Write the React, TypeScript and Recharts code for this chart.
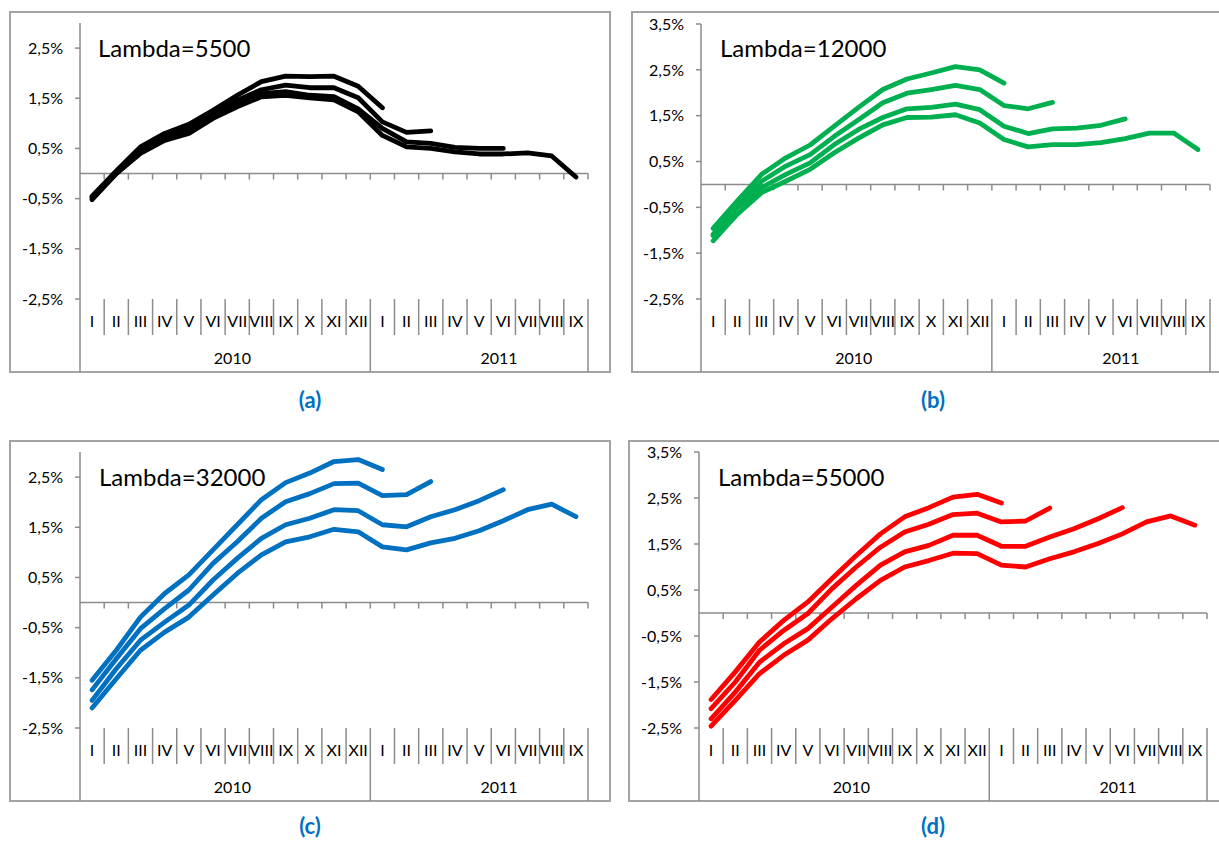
import React from 'react';
import { LineChart, Line, XAxis, YAxis, ReferenceLine } from 'recharts';

const MONTHS_2010 = ['I', 'II', 'III', 'IV', 'V', 'VI', 'VII', 'VIII', 'IX', 'X', 'XI', 'XII'];
const MONTHS_2011 = ['I', 'II', 'III', 'IV', 'V', 'VI', 'VII', 'VIII', 'IX'];
const YEARS = ['2010', '2011'];

// Lambda=5500
const a1 = [-0.45, 0.05, 0.53, 0.8, 0.98, 1.26, 1.56, 1.83, 1.94, 1.93, 1.94, 1.74, 1.31];
const a2 = [-0.47, 0.02, 0.5, 0.76, 0.93, 1.2, 1.46, 1.67, 1.76, 1.71, 1.71, 1.51, 1.03, 0.82, 0.85];
const a3 = [-0.49, 0.0, 0.45, 0.7, 0.86, 1.14, 1.4, 1.59, 1.63, 1.56, 1.53, 1.29, 0.9, 0.63, 0.6, 0.52, 0.5, 0.5];
const a4 = [-0.52, 0.0, 0.4, 0.66, 0.8, 1.1, 1.33, 1.53, 1.56, 1.51, 1.47, 1.23, 0.76, 0.53, 0.5, 0.43, 0.39, 0.39, 0.41, 0.35, -0.07];

// Lambda=12000
const b1 = [-0.96, -0.36, 0.22, 0.58, 0.86, 1.27, 1.68, 2.07, 2.3, 2.43, 2.57, 2.5, 2.21];
const b2 = [-1.09, -0.47, 0.07, 0.4, 0.65, 1.05, 1.41, 1.78, 1.99, 2.07, 2.16, 2.07, 1.72, 1.65, 1.79];
const b3 = [-1.12, -0.51, -0.07, 0.22, 0.47, 0.87, 1.2, 1.46, 1.65, 1.68, 1.75, 1.63, 1.27, 1.11, 1.21, 1.23, 1.29, 1.43];
const b4 = [-1.23, -0.65, -0.18, 0.07, 0.33, 0.69, 1.01, 1.3, 1.46, 1.47, 1.52, 1.34, 0.98, 0.82, 0.87, 0.87, 0.91, 1.0, 1.12, 1.12, 0.76];

// Lambda=32000
const c1 = [-1.55, -0.95, -0.29, 0.18, 0.55, 1.05, 1.55, 2.05, 2.39, 2.58, 2.81, 2.85, 2.65];
const c2 = [-1.74, -1.12, -0.52, -0.12, 0.25, 0.78, 1.21, 1.68, 2.01, 2.17, 2.37, 2.38, 2.13, 2.15, 2.41];
const c3 = [-1.95, -1.32, -0.75, -0.39, -0.05, 0.45, 0.88, 1.28, 1.55, 1.68, 1.85, 1.83, 1.55, 1.51, 1.71, 1.85, 2.03, 2.25];
const c4 = [-2.1, -1.52, -0.95, -0.59, -0.29, 0.15, 0.58, 0.95, 1.21, 1.31, 1.46, 1.41, 1.11, 1.05, 1.19, 1.28, 1.43, 1.63, 1.85, 1.96, 1.71];

// Lambda=55000
const d1 = [-1.88, -1.28, -0.63, -0.16, 0.24, 0.75, 1.25, 1.72, 2.09, 2.29, 2.52, 2.58, 2.39];
const d2 = [-2.08, -1.5, -0.81, -0.38, -0.01, 0.53, 1.0, 1.43, 1.76, 1.93, 2.14, 2.17, 1.98, 2.0, 2.28];
const d3 = [-2.3, -1.72, -1.07, -0.67, -0.34, 0.13, 0.6, 1.04, 1.33, 1.47, 1.69, 1.69, 1.45, 1.45, 1.65, 1.83, 2.05, 2.29];
const d4 = [-2.46, -1.9, -1.32, -0.92, -0.59, -0.12, 0.31, 0.71, 1.0, 1.14, 1.3, 1.29, 1.04, 1.0, 1.18, 1.33, 1.51, 1.72, 1.98, 2.11, 1.91];

const Y_TICKS_LOW = [-2.5, -1.5, -0.5, 0.5, 1.5, 2.5];
const Y_TICKS_HIGH = [-2.5, -1.5, -0.5, 0.5, 1.5, 2.5, 3.5];

const FONT = 'Lato, "Open Sans", sans-serif';
const AXIS_GRAY = '#8c8c8c';
const BOX_GRAY = '#a3a3a3';
const TEXT = '#000';

const monthLabels = [...MONTHS_2010, ...MONTHS_2011];
const N = monthLabels.length;
const yearSizes = [MONTHS_2010.length, MONTHS_2011.length];
const yearBounds = yearSizes.reduce<number[]>((acc, s) => [...acc, acc[acc.length - 1] + s], [0]);
const yearCenters = YEARS.map((_, i) => (yearBounds[i] + yearBounds[i + 1]) / 2);
const monthTicks = Array.from({ length: 2 * N + 1 }, (_, i) => i / 2);

const buildData = (series: number[][]) =>
  monthLabels.map((m, i) => {
    const row: Record<string, number | null | string> = { x: i + 0.5, month: m };
    series.forEach((s, k) => {
      row[`s${k}`] = i < s.length ? s[i] : null;
    });
    return row;
  });

const fmtPct = (v: number) => `${v.toFixed(1).replace('.', ',')}%`;

const MonthTick = (props: any) => {
  const { x, y, payload } = props;
  const v = payload.value as number;
  if (Number.isInteger(v)) {
    const long = yearBounds.includes(v);
    return <line x1={x} x2={x} y1={y} y2={y + (long ? 73 : 36)} stroke={AXIS_GRAY} strokeWidth={1.5} />;
  }
  const label = monthLabels[Math.floor(v)];
  return (
    <text x={x} y={y + 24} textAnchor="middle" dominantBaseline="middle" fontSize={16} fontFamily={FONT} fill={TEXT}>
      {label}
    </text>
  );
};

const YearTick = (props: any) => {
  const { x, y, payload } = props;
  const idx = yearCenters.indexOf(payload.value);
  return (
    <text x={x} y={y + 26} textAnchor="middle" dominantBaseline="middle" fontSize={16} fontFamily={FONT} fill={TEXT}>
      {YEARS[idx]}
    </text>
  );
};

const zeroAxis = (props: any) => {
  const { x1, y1, x2 } = props;
  const step = (x2 - x1) / N;
  return (
    <g>
      <line x1={x1} x2={x2} y1={y1} y2={y1} stroke={AXIS_GRAY} strokeWidth={1.5} />
      {Array.from({ length: N }, (_, k) => (
        <line key={k} x1={x1 + step * (k + 1)} x2={x1 + step * (k + 1)} y1={y1} y2={y1 + 6} stroke={AXIS_GRAY} strokeWidth={1.5} />
      ))}
    </g>
  );
};

interface PanelProps {
  left: number;
  top: number;
  width: number;
  yAxisWidth: number;
  marginTop: number;
  marginRight: number;
  yMax: number;
  yTicks: number[];
  color: string;
  series: number[][];
  title: string;
  titleLeft: number;
  box: { left: number; top: number; width: number };
  tag: string;
  tagX: number;
  tagY: number;
}

const Panel: React.FC<PanelProps> = (p) => {
  const data = buildData(p.series);
  return (
    <>
      <div
        style={{
          position: 'absolute', left: p.box.left, top: p.box.top, width: p.box.width, height: 362,
          border: `2px solid ${BOX_GRAY}`, boxSizing: 'border-box',
        }}
      />
      <div style={{ position: 'absolute', left: p.left, top: p.top }}>
        <LineChart width={p.width} height={360} data={data}
          margin={{ top: p.marginTop, right: p.marginRight, bottom: 0, left: 0 }}>
          <XAxis dataKey="x" type="number" domain={[0, N]} ticks={monthTicks} interval={0}
            axisLine={false} tickLine={false} tickSize={0} tickMargin={0} height={35} tick={<MonthTick />} />
          <XAxis xAxisId="year" type="number" domain={[0, N]} ticks={yearCenters} interval={0}
            axisLine={false} tickLine={false} tickSize={0} tickMargin={0} height={38} tick={<YearTick />} />
          <YAxis type="number" domain={[-2.5, p.yMax]} ticks={p.yTicks} interval={0} width={p.yAxisWidth}
            tickFormatter={fmtPct} tickSize={5} tickMargin={12}
            axisLine={{ stroke: AXIS_GRAY, strokeWidth: 1.5 }} tickLine={{ stroke: AXIS_GRAY, strokeWidth: 1.5 }}
            tick={{ fontSize: 16, fontFamily: FONT, fill: TEXT }} />
          <ReferenceLine y={0} shape={zeroAxis} />
          {p.series.map((_, k) => (
            <Line key={k} dataKey={`s${k}`} stroke={p.color} strokeWidth={4.8} dot={false}
              strokeLinecap="round" strokeLinejoin="round" isAnimationActive={false} />
          ))}
        </LineChart>
      </div>
      <div style={{ position: 'absolute', left: p.titleLeft, top: p.top + 22, fontFamily: FONT, fontSize: 24, lineHeight: '28px', color: TEXT }}>
        {p.title}
      </div>
      <div style={{ position: 'absolute', left: p.tagX - 30, width: 60, top: p.tagY - 14, textAlign: 'center', fontFamily: FONT, fontWeight: 700, fontSize: 22, lineHeight: '28px', color: '#0070C0' }}>
        {p.tag}
      </div>
    </>
  );
};

export default function App() {
  return (
    <div style={{ position: 'absolute', left: 0, top: 0, width: 1219, height: 841, background: '#fff', overflow: 'hidden' }}>
      <Panel left={10} top={12} width={600} yAxisWidth={70} marginTop={11} marginRight={22}
        yMax={3.0} yTicks={Y_TICKS_LOW} color="#000000" series={[a1, a2, a3, a4]}
        title="Lambda=5500" titleLeft={98} box={{ left: 9, top: 11, width: 602 }} tag="(a)" tagX={310} tagY={400} />
      <Panel left={632} top={12} width={587} yAxisWidth={69} marginTop={12} marginRight={9}
        yMax={3.5} yTicks={Y_TICKS_HIGH} color="#00B050" series={[b1, b2, b3, b4]}
        title="Lambda=12000" titleLeft={720} box={{ left: 631, top: 11, width: 600 }} tag="(b)" tagX={933} tagY={400} />
      <Panel left={10} top={441} width={600} yAxisWidth={70} marginTop={11} marginRight={22}
        yMax={3.0} yTicks={Y_TICKS_LOW} color="#0070C0" series={[c1, c2, c3, c4]}
        title="Lambda=32000" titleLeft={99} box={{ left: 9, top: 440, width: 602 }} tag="(c)" tagX={310} tagY={826} />
      <Panel left={629} top={441} width={590} yAxisWidth={70} marginTop={11} marginRight={12}
        yMax={3.5} yTicks={Y_TICKS_HIGH} color="#FF0000" series={[d1, d2, d3, d4]}
        title="Lambda=55000" titleLeft={718} box={{ left: 628, top: 440, width: 600 }} tag="(d)" tagX={933} tagY={826} />
    </div>
  );
}
